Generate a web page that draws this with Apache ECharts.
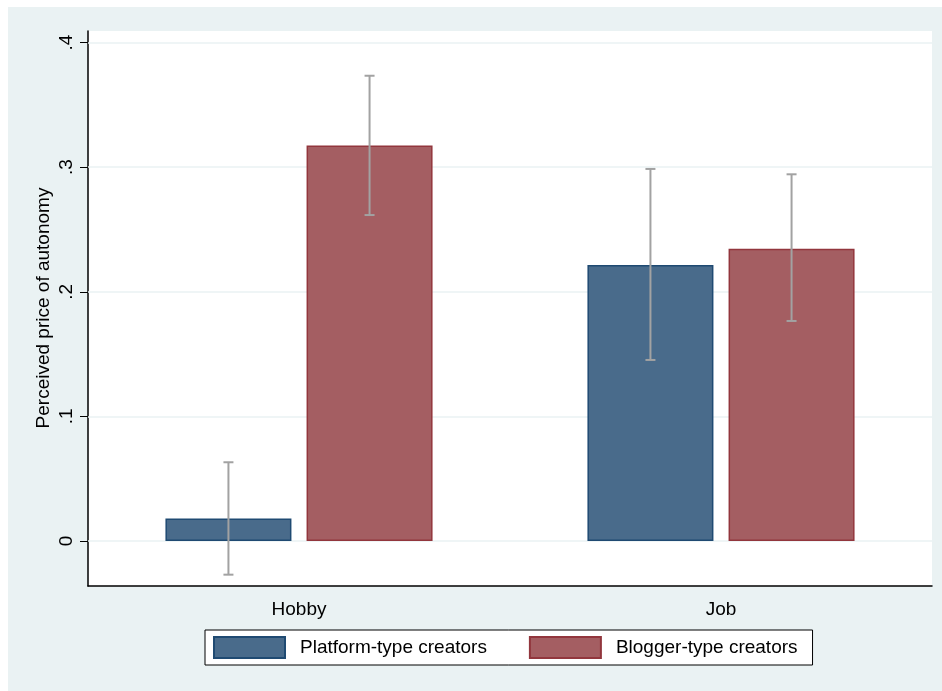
<!DOCTYPE html>
<html><head><meta charset="utf-8">
<script src="https://cdn.jsdelivr.net/npm/echarts@6/dist/echarts.min.js"></script>
<style>html,body{margin:0;padding:0;background:#fff}#c{width:942px;height:691px}</style>
</head><body><div id="c"></div>
<script>
const categories = ['Hobby', 'Job'];
const seriesNames = ['Platform-type creators', 'Blogger-type creators'];
const yTitle = 'Perceived price of autonomy';
const platformMean = [0.018, 0.2215];
const platformLow = [-0.027, 0.1453];
const platformHigh = [0.0632, 0.2986];
const bloggerMean = [0.3175, 0.2346];
const bloggerLow = [0.2616, 0.1766];
const bloggerHigh = [0.3734, 0.2943];
const yTicks = [0, 0.1, 0.2, 0.3, 0.4];
const yTickLabels = ['0', '.1', '.2', '.3', '.4'];
const yMin = -0.0361, yMax = 0.4093;

const BAR_W = 126, GAP = 0.12;
const offset = BAR_W * (1 + GAP) / 2;
const FONT = 'Liberation Sans, Arial, sans-serif';
const FS = 19;

function errSeries(low, high, dir) {
  return {
    type: 'custom', silent: true, z: 5,
    data: categories.map((c, i) => [i, low[i], high[i]]),
    renderItem: function (params, api) {
      const lo = api.coord([api.value(0), api.value(1)]);
      const hi = api.coord([api.value(0), api.value(2)]);
      const x = lo[0] + dir * offset;
      const cap = 5;
      const st = { stroke: '#a2a2a2', lineWidth: 2 };
      return { type: 'group', children: [
        { type: 'line', shape: { x1: x, y1: lo[1], x2: x, y2: hi[1] }, style: st },
        { type: 'line', shape: { x1: x - cap, y1: lo[1], x2: x + cap, y2: lo[1] }, style: st },
        { type: 'line', shape: { x1: x - cap, y1: hi[1], x2: x + cap, y2: hi[1] }, style: st }
      ]};
    }
  };
}

const chart = echarts.init(document.getElementById('c'), null, { renderer: 'canvas' });
chart.setOption({
  animation: false,
  textStyle: { fontFamily: FONT },
  graphic: [
    { type: 'rect', z: -10, shape: { x: 8, y: 7, width: 934, height: 684 }, style: { fill: '#eaf2f3' } },
    { type: 'text', z: 10, x: 44, y: 308, rotation: Math.PI / 2,
      style: { text: yTitle, fill: '#000', font: FS + 'px ' + FONT, align: 'center', verticalAlign: 'middle' } }
  ],
  grid: { left: 88, right: 10, top: 31, bottom: 105, show: true, backgroundColor: '#ffffff', borderWidth: 0 },
  legend: {
    data: seriesNames, left: 205, top: 630, orient: 'horizontal',
    backgroundColor: '#ffffff', borderColor: '#000000', borderWidth: 1, borderRadius: 0,
    padding: [6, 15, 6, 8], itemGap: 42, itemWidth: 71, itemHeight: 21, icon: 'rect',
    textStyle: { fontSize: FS, color: '#000', fontFamily: FONT, padding: [0, 0, 0, 10] }
  },
  xAxis: {
    type: 'category', data: categories,
    axisLine: { onZero: false, lineStyle: { color: '#000', width: 1.5 } },
    axisTick: { alignWithLabel: true, length: 6, lineStyle: { color: '#000' } },
    axisLabel: { fontSize: FS, color: '#000', margin: 14, fontFamily: FONT },
    splitLine: { show: false }
  },
  yAxis: {
    type: 'value', min: yMin, max: yMax,
    axisLine: { show: true, lineStyle: { color: '#000', width: 1.5 } },
    axisTick: { show: true, length: 8, customValues: yTicks, lineStyle: { color: '#000' } },
    axisLabel: { rotate: 90, fontSize: FS, color: '#000', margin: 12, fontFamily: FONT,
      customValues: yTicks,
      formatter: function (v) { const i = yTicks.findIndex(t => Math.abs(t - v) < 1e-9); return i >= 0 ? yTickLabels[i] : ''; } },
    splitLine: { show: false }
  },
  series: [
    { name: seriesNames[0], type: 'bar', data: platformMean, barWidth: BAR_W, barGap: (GAP * 100) + '%',
      itemStyle: { color: '#496b8b', borderColor: '#1f4a72', borderWidth: 1.5 },
      markLine: { silent: true, symbol: 'none', z: 1, label: { show: false },
        lineStyle: { color: '#eaf2f3', width: 1.5, type: 'solid' },
        data: yTicks.map(t => ({ yAxis: t })) } },
    { name: seriesNames[1], type: 'bar', data: bloggerMean, barWidth: BAR_W,
      itemStyle: { color: '#a45e62', borderColor: '#92363d', borderWidth: 1.5 } },
    errSeries(platformLow, platformHigh, -1),
    errSeries(bloggerLow, bloggerHigh, 1)
  ]
});
</script></body></html>
